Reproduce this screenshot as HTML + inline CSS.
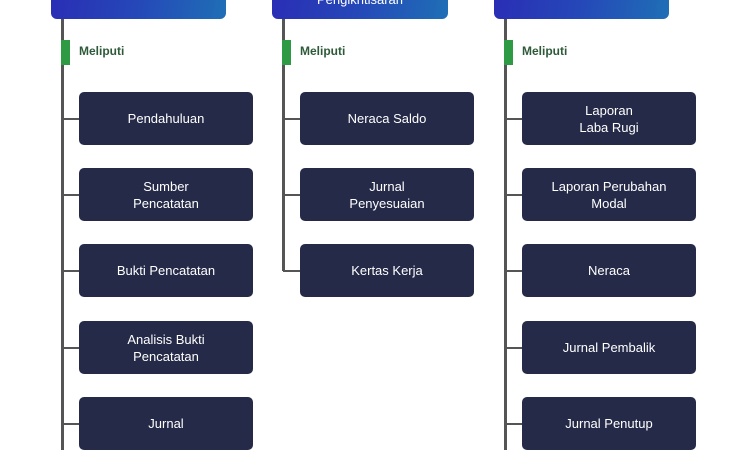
<!DOCTYPE html>
<html><head><style>
body{margin:0;width:750px;height:450px;background:#fff;position:relative;overflow:hidden;font-family:"Liberation Sans",sans-serif}
.h{position:absolute;top:-20px;height:39px;border-radius:6px;background:linear-gradient(100deg,#2a2db5 0%,#2548b8 50%,#1f6fb6 100%);color:#fff;font-size:13px;text-align:center;line-height:12px}
.v{position:absolute;width:3px;background:#555}
.hz{position:absolute;height:2px;background:#555}
.g{position:absolute;width:9px;height:25px;top:40px;background:#2e9a44}
.m{position:absolute;top:44px;font-size:12px;font-weight:bold;color:#2f5a3a}
.b{position:absolute;width:174px;height:53px;background:#252a48;border-radius:5px;color:#fff;font-size:13px;display:flex;align-items:center;justify-content:center;text-align:center;line-height:17px}
</style></head><body>
<div class="h" style="left:51px;width:175px"></div>
<div class="h" style="left:272px;width:176px;line-height:40px">Pengikhtisaran</div>
<div class="h" style="left:494px;width:175px"></div>

<div class="v" style="left:61px;top:19px;height:431px"></div>
<div class="v" style="left:282px;top:19px;height:252px"></div>
<div class="v" style="left:504px;top:19px;height:431px"></div>

<div class="g" style="left:61px"></div><div class="m" style="left:79px">Meliputi</div>
<div class="g" style="left:282px"></div><div class="m" style="left:300px">Meliputi</div>
<div class="g" style="left:504px"></div><div class="m" style="left:522px">Meliputi</div>

<div class="hz" style="left:62px;width:18px;top:118px"></div>
<div class="hz" style="left:62px;width:18px;top:194px"></div>
<div class="hz" style="left:62px;width:18px;top:270px"></div>
<div class="hz" style="left:62px;width:18px;top:347px"></div>
<div class="hz" style="left:62px;width:18px;top:423px"></div>
<div class="b" style="left:79px;top:92px">Pendahuluan</div>
<div class="b" style="left:79px;top:168px">Sumber<br>Pencatatan</div>
<div class="b" style="left:79px;top:244px">Bukti Pencatatan</div>
<div class="b" style="left:79px;top:321px">Analisis Bukti<br>Pencatatan</div>
<div class="b" style="left:79px;top:397px">Jurnal</div>

<div class="hz" style="left:283px;width:18px;top:118px"></div>
<div class="hz" style="left:283px;width:18px;top:194px"></div>
<div class="hz" style="left:283px;width:18px;top:270px"></div>
<div class="b" style="left:300px;top:92px">Neraca Saldo</div>
<div class="b" style="left:300px;top:168px">Jurnal<br>Penyesuaian</div>
<div class="b" style="left:300px;top:244px">Kertas Kerja</div>

<div class="hz" style="left:505px;width:18px;top:118px"></div>
<div class="hz" style="left:505px;width:18px;top:194px"></div>
<div class="hz" style="left:505px;width:18px;top:270px"></div>
<div class="hz" style="left:505px;width:18px;top:347px"></div>
<div class="hz" style="left:505px;width:18px;top:423px"></div>
<div class="b" style="left:522px;top:92px">Laporan<br>Laba Rugi</div>
<div class="b" style="left:522px;top:168px">Laporan Perubahan<br>Modal</div>
<div class="b" style="left:522px;top:244px">Neraca</div>
<div class="b" style="left:522px;top:321px">Jurnal Pembalik</div>
<div class="b" style="left:522px;top:397px">Jurnal Penutup</div>
</body></html>
